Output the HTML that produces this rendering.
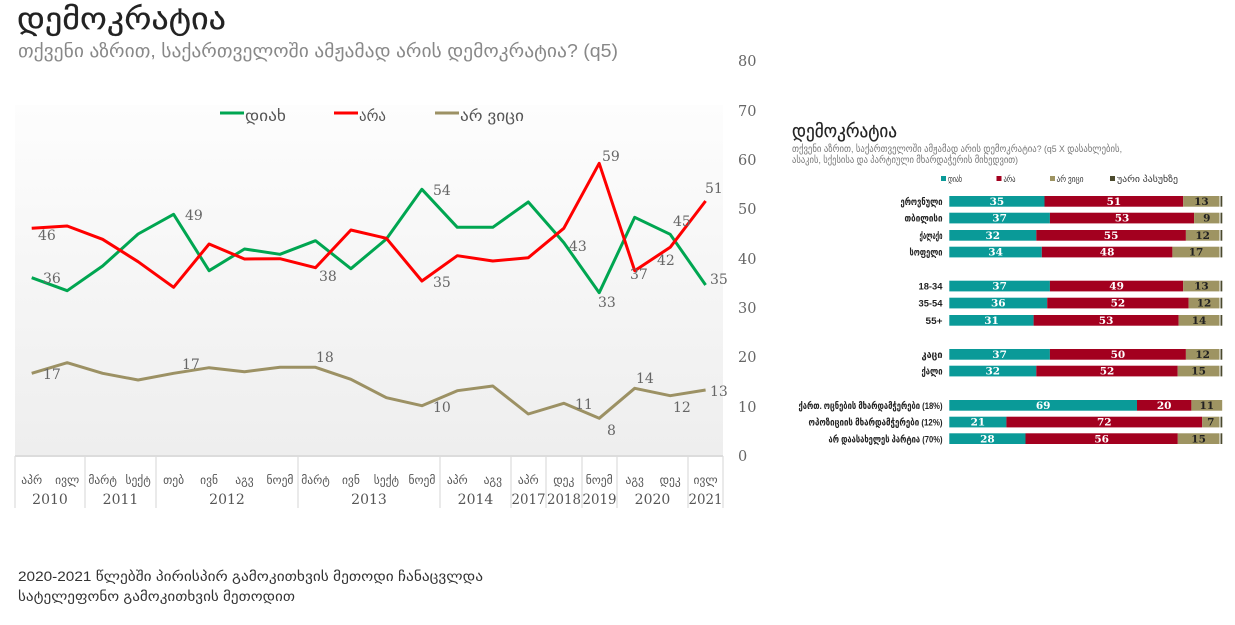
<!DOCTYPE html>
<html><head><meta charset="utf-8"><style>
html,body{margin:0;padding:0;background:#fff;}
svg{display:block;}
.geo{font-family:"Liberation Sans","DejaVu Sans",sans-serif;}
.num{font-family:"DejaVu Serif","Liberation Serif",serif;}
</style></head><body>
<svg width="1235" height="625" viewBox="0 0 1235 625" xmlns="http://www.w3.org/2000/svg">
<defs>
<linearGradient id="bg" x1="0" y1="0" x2="0" y2="1">
<stop offset="0" stop-color="#fdfdfd"/><stop offset="1" stop-color="#eeeeee"/>
</linearGradient>
</defs>
<rect width="1235" height="625" fill="#fff"/>
<!-- titles -->
<text class="geo" x="17" y="29" font-size="30" fill="#222" stroke="#222" stroke-width="0.25" textLength="209" lengthAdjust="spacingAndGlyphs">დემოკრატია</text>
<text class="geo" x="18" y="57" font-size="18" fill="#888" textLength="600" lengthAdjust="spacingAndGlyphs">თქვენი აზრით, საქართველოში ამჟამად არის დემოკრატია? (q5)</text>

<!-- plot background -->
<rect x="15" y="105" width="708" height="350" fill="url(#bg)"/>
<line x1="15" y1="456" x2="723" y2="456" stroke="#dcdcdc" stroke-width="2"/>

<!-- y axis labels -->
<g class="num" font-size="14.5" fill="#666">
<text x="738" y="66">80</text>
<text x="738" y="116">70</text>
<text x="738" y="165">60</text>
<text x="738" y="214">50</text>
<text x="738" y="264">40</text>
<text x="738" y="313">30</text>
<text x="738" y="362">20</text>
<text x="738" y="412">10</text>
<text x="738" y="461">0</text>
</g>

<!-- legend -->
<line x1="220" y1="113" x2="244" y2="113" stroke="#00a651" stroke-width="3"/>
<text class="geo" x="245" y="121" font-size="15" fill="#555" textLength="41" lengthAdjust="spacingAndGlyphs">დიახ</text>
<line x1="334" y1="113" x2="358" y2="113" stroke="#ff0000" stroke-width="3"/>
<text class="geo" x="359" y="121" font-size="15" fill="#555" textLength="27" lengthAdjust="spacingAndGlyphs">არა</text>
<line x1="435" y1="113" x2="459" y2="113" stroke="#9c9164" stroke-width="3"/>
<text class="geo" x="460" y="121" font-size="15" fill="#555" textLength="64" lengthAdjust="spacingAndGlyphs">არ ვიცი</text>

<!-- series -->
<polyline fill="none" stroke="#9c9164" stroke-width="3" stroke-linejoin="round" points="31.7,373.3 67.2,362.7 102.6,373.3 138.1,380 173.6,373.3 209.1,367.7 244.5,371.7 280,367.3 315.5,367.3 350.9,379.3 386.4,397.7 421.9,405.7 457.3,390.7 492.8,386 528.3,414 563.8,403.3 599.2,418.3 634.7,388.3 670.2,395.7 705.6,390"/>
<polyline fill="none" stroke="#00a651" stroke-width="3" stroke-linejoin="round" points="31.7,277.7 67.2,290.7 102.6,266 138.1,234 173.6,214.3 209.1,270.7 244.5,249 280,254.3 315.5,240.7 350.9,268.7 386.4,239 421.9,189.3 457.3,227.3 492.8,227.3 528.3,202 563.8,242.6 599.2,292.7 634.7,217.3 670.2,234.3 705.6,285"/>
<polyline fill="none" stroke="#ff0000" stroke-width="3" stroke-linejoin="round" points="31.7,228.3 67.2,226 102.6,239.3 138.1,261.7 173.6,287.3 209.1,244 244.5,259 280,258.7 315.5,267.7 350.9,230 386.4,238.3 421.9,281 457.3,255.7 492.8,261 528.3,257.7 563.8,228.3 599.2,163.3 634.7,270.7 670.2,247.3 705.6,201"/>

<!-- data labels -->
<g class="num" font-size="14" fill="#666">
<text x="43" y="283">36</text>
<text x="38" y="240">46</text>
<text x="185" y="220">49</text>
<text x="319" y="281">38</text>
<text x="43" y="379">17</text>
<text x="182" y="369">17</text>
<text x="316" y="362">18</text>
<text x="433" y="195">54</text>
<text x="433" y="287">35</text>
<text x="569" y="251">43</text>
<text x="602" y="161">59</text>
<text x="598" y="307">33</text>
<text x="630" y="279">37</text>
<text x="657" y="265">42</text>
<text x="673" y="226">45</text>
<text x="705" y="193">51</text>
<text x="710" y="284">35</text>
<text x="433" y="412">10</text>
<text x="575" y="409">11</text>
<text x="607" y="435">8</text>
<text x="636" y="383">14</text>
<text x="673" y="412">12</text>
<text x="710" y="396">13</text>
</g>

<!-- category table -->
<g stroke="#dcdcdc" stroke-width="1.2">
<line x1="15" y1="456" x2="15" y2="508"/>
<line x1="85" y1="456" x2="85" y2="508"/>
<line x1="156" y1="456" x2="156" y2="508"/>
<line x1="298" y1="456" x2="298" y2="508"/>
<line x1="440" y1="456" x2="440" y2="508"/>
<line x1="511" y1="456" x2="511" y2="508"/>
<line x1="546" y1="456" x2="546" y2="508"/>
<line x1="582" y1="456" x2="582" y2="508"/>
<line x1="617" y1="456" x2="617" y2="508"/>
<line x1="688" y1="456" x2="688" y2="508"/>
<line x1="723" y1="456" x2="723" y2="508"/>
</g>
<g class="geo" font-size="11.5" fill="#555" text-anchor="middle">
<text x="31.7" y="484">აპრ</text>
<text x="67.2" y="484">ივლ</text>
<text x="102.6" y="484">მარტ</text>
<text x="138.1" y="484">სექტ</text>
<text x="173.6" y="484">თებ</text>
<text x="209.1" y="484">ივნ</text>
<text x="244.5" y="484">აგვ</text>
<text x="280" y="484">ნოემ</text>
<text x="315.5" y="484">მარტ</text>
<text x="350.9" y="484">ივნ</text>
<text x="386.4" y="484">სექტ</text>
<text x="421.9" y="484">ნოემ</text>
<text x="457.3" y="484">აპრ</text>
<text x="492.8" y="484">აგვ</text>
<text x="528.3" y="484">აპრ</text>
<text x="563.8" y="484">დეკ</text>
<text x="599.2" y="484">ნოემ</text>
<text x="634.7" y="484">აგვ</text>
<text x="670.2" y="484">დეკ</text>
<text x="705.6" y="484">ივლ</text>
</g>
<g class="num" font-size="14" fill="#555" text-anchor="middle">
<text x="50" y="504">2010</text>
<text x="120.5" y="504">2011</text>
<text x="227" y="504">2012</text>
<text x="369" y="504">2013</text>
<text x="475.5" y="504">2014</text>
<text x="528.5" y="504" textLength="34" lengthAdjust="spacingAndGlyphs">2017</text>
<text x="564" y="504" textLength="34" lengthAdjust="spacingAndGlyphs">2018</text>
<text x="599.5" y="504" textLength="34" lengthAdjust="spacingAndGlyphs">2019</text>
<text x="652.5" y="504">2020</text>
<text x="705.5" y="504" textLength="34" lengthAdjust="spacingAndGlyphs">2021</text>
</g>

<!-- footnote -->
<text class="geo" x="18" y="581" font-size="14" fill="#333" textLength="465" lengthAdjust="spacingAndGlyphs">2020-2021 წლებში პირისპირ გამოკითხვის მეთოდი ჩანაცვლდა</text>
<text class="geo" x="18" y="601" font-size="14" fill="#333" textLength="277" lengthAdjust="spacingAndGlyphs">სატელეფონო გამოკითხვის მეთოდით</text>

<!-- right panel -->
<text class="geo" x="792" y="137" font-size="18" fill="#222" stroke="#222" stroke-width="0.2" textLength="105" lengthAdjust="spacingAndGlyphs">დემოკრატია</text>
<text class="geo" x="792" y="152" font-size="9.5" fill="#777" textLength="330" lengthAdjust="spacingAndGlyphs">თქვენი აზრით, საქართველოში ამჟამად არის დემოკრატია? (q5 X დასახლების,</text>
<text class="geo" x="792" y="163" font-size="9.5" fill="#777" textLength="226" lengthAdjust="spacingAndGlyphs">ასაკის, სქესისა და პარტიული მხარდაჭერის მიხედვით)</text>

<rect x="941" y="176" width="5" height="5" fill="#0a9a98"/>
<text class="geo" x="948" y="182" font-size="9" fill="#333" textLength="14" lengthAdjust="spacingAndGlyphs">დიახ</text>
<rect x="996.5" y="176" width="5" height="5" fill="#a3001f"/>
<text class="geo" x="1003.5" y="182" font-size="9" fill="#333" textLength="12" lengthAdjust="spacingAndGlyphs">არა</text>
<rect x="1050" y="176" width="5" height="5" fill="#9e9462"/>
<text class="geo" x="1056.5" y="182" font-size="9" fill="#333" textLength="27" lengthAdjust="spacingAndGlyphs">არ ვიცი</text>
<rect x="1110" y="176" width="5" height="5" fill="#4b4a2e"/>
<text class="geo" x="1117" y="182" font-size="9" fill="#333" textLength="61" lengthAdjust="spacingAndGlyphs">უარი პასუხზე</text>

<g id="bars">
<g>
<rect x="949.3" y="196" width="95.2" height="10.7" fill="#0a9a98"/>
<rect x="1044.5" y="196" width="138.7" height="10.7" fill="#a3001f"/>
<rect x="1183.2" y="196" width="36.3" height="10.7" fill="#9e9462"/>
<rect x="1220.5" y="196" width="1.8" height="10.7" fill="#4b4a2e"/>
</g>
<g>
<rect x="949.3" y="212.7" width="100.6" height="10.7" fill="#0a9a98"/>
<rect x="1049.9" y="212.7" width="144.2" height="10.7" fill="#a3001f"/>
<rect x="1194.1" y="212.7" width="25.4" height="10.7" fill="#9e9462"/>
<rect x="1220.5" y="212.7" width="1.8" height="10.7" fill="#4b4a2e"/>
</g>
<g>
<rect x="949.3" y="230" width="87" height="10.7" fill="#0a9a98"/>
<rect x="1036.3" y="230" width="149.6" height="10.7" fill="#a3001f"/>
<rect x="1185.9" y="230" width="33.6" height="10.7" fill="#9e9462"/>
<rect x="1220.5" y="230" width="1.8" height="10.7" fill="#4b4a2e"/>
</g>
<g>
<rect x="949.3" y="246.7" width="92.5" height="10.7" fill="#0a9a98"/>
<rect x="1041.8" y="246.7" width="130.6" height="10.7" fill="#a3001f"/>
<rect x="1172.4" y="246.7" width="47.1" height="10.7" fill="#9e9462"/>
<rect x="1220.5" y="246.7" width="1.8" height="10.7" fill="#4b4a2e"/>
</g>
<g>
<rect x="949.3" y="280.7" width="100.6" height="10.7" fill="#0a9a98"/>
<rect x="1049.9" y="280.7" width="133.3" height="10.7" fill="#a3001f"/>
<rect x="1183.2" y="280.7" width="36.3" height="10.7" fill="#9e9462"/>
<rect x="1220.5" y="280.7" width="1.8" height="10.7" fill="#4b4a2e"/>
</g>
<g>
<rect x="949.3" y="297.7" width="97.9" height="10.7" fill="#0a9a98"/>
<rect x="1047.2" y="297.7" width="141.4" height="10.7" fill="#a3001f"/>
<rect x="1188.6" y="297.7" width="30.9" height="10.7" fill="#9e9462"/>
<rect x="1220.5" y="297.7" width="1.8" height="10.7" fill="#4b4a2e"/>
</g>
<g>
<rect x="949.3" y="315" width="84.3" height="10.7" fill="#0a9a98"/>
<rect x="1033.6" y="315" width="145" height="10.7" fill="#a3001f"/>
<rect x="1178.6" y="315" width="40.9" height="10.7" fill="#9e9462"/>
<rect x="1220.5" y="315" width="1.8" height="10.7" fill="#4b4a2e"/>
</g>
<g>
<rect x="949.3" y="349" width="100.6" height="10.7" fill="#0a9a98"/>
<rect x="1049.9" y="349" width="136" height="10.7" fill="#a3001f"/>
<rect x="1185.9" y="349" width="33.6" height="10.7" fill="#9e9462"/>
<rect x="1220.5" y="349" width="1.8" height="10.7" fill="#4b4a2e"/>
</g>
<g>
<rect x="949.3" y="365.7" width="87" height="10.7" fill="#0a9a98"/>
<rect x="1036.3" y="365.7" width="141.4" height="10.7" fill="#a3001f"/>
<rect x="1177.7" y="365.7" width="41.8" height="10.7" fill="#9e9462"/>
<rect x="1220.5" y="365.7" width="1.8" height="10.7" fill="#4b4a2e"/>
</g>
<g>
<rect x="949.3" y="400" width="187.7" height="10.7" fill="#0a9a98"/>
<rect x="1137" y="400" width="54.4" height="10.7" fill="#a3001f"/>
<rect x="1191.4" y="400" width="30.8" height="10.7" fill="#9e9462"/>
</g>
<g>
<rect x="949.3" y="416.7" width="57.1" height="10.7" fill="#0a9a98"/>
<rect x="1006.4" y="416.7" width="195.8" height="10.7" fill="#a3001f"/>
<rect x="1202.2" y="416.7" width="17.3" height="10.7" fill="#9e9462"/>
<rect x="1220.5" y="416.7" width="1.8" height="10.7" fill="#4b4a2e"/>
</g>
<g>
<rect x="949.3" y="433.3" width="76.2" height="10.7" fill="#0a9a98"/>
<rect x="1025.5" y="433.3" width="152.3" height="10.7" fill="#a3001f"/>
<rect x="1177.8" y="433.3" width="41.7" height="10.7" fill="#9e9462"/>
<rect x="1220.5" y="433.3" width="1.8" height="10.7" fill="#4b4a2e"/>
</g>
</g>

<!-- bar numbers -->
<g class="num" font-size="10.5" font-weight="bold" text-anchor="middle">
<g fill="#fff">
<text x="996.9" y="205">35</text><text x="1113.9" y="205">51</text>
<text x="999.6" y="221.7">37</text><text x="1122" y="221.7">53</text>
<text x="992.8" y="239">32</text><text x="1111.1" y="239">55</text>
<text x="995.6" y="255.7">34</text><text x="1107.1" y="255.7">48</text>
<text x="999.6" y="289.7">37</text><text x="1116.6" y="289.7">49</text>
<text x="998.3" y="306.7">36</text><text x="1117.9" y="306.7">52</text>
<text x="991.5" y="324">31</text><text x="1106.1" y="324">53</text>
<text x="999.6" y="358">37</text><text x="1117.9" y="358">50</text>
<text x="992.8" y="374.7">32</text><text x="1107" y="374.7">52</text>
<text x="1043.2" y="409">69</text><text x="1164.2" y="409">20</text>
<text x="977.9" y="425.7">21</text><text x="1104.3" y="425.7">72</text>
<text x="987.4" y="442.3">28</text><text x="1101.7" y="442.3">56</text>
</g>
<g fill="#222">
<text x="1201.4" y="205">13</text>
<text x="1206.8" y="221.7">9</text>
<text x="1202.7" y="239">12</text>
<text x="1196" y="255.7">17</text>
<text x="1201.4" y="289.7">13</text>
<text x="1204" y="306.7">12</text>
<text x="1199" y="324">14</text>
<text x="1202.7" y="358">12</text>
<text x="1198.6" y="374.7">15</text>
<text x="1206.8" y="409">11</text>
<text x="1210.8" y="425.7">7</text>
<text x="1198.6" y="442.3">15</text>
</g>
</g>

<!-- row labels -->
<g class="geo" font-size="9.5" font-weight="bold" fill="#222" text-anchor="end">
<text x="942.5" y="205" textLength="42" lengthAdjust="spacingAndGlyphs">ეროვნული</text>
<text x="942.5" y="221.7" textLength="38" lengthAdjust="spacingAndGlyphs">თბილისი</text>
<text x="942.5" y="239" textLength="23" lengthAdjust="spacingAndGlyphs">ქალაქი</text>
<text x="942.5" y="255.7" textLength="33" lengthAdjust="spacingAndGlyphs">სოფელი</text>
<text x="942.5" y="289.7" textLength="24" lengthAdjust="spacingAndGlyphs">18-34</text>
<text x="942.5" y="306.7" textLength="24" lengthAdjust="spacingAndGlyphs">35-54</text>
<text x="942.5" y="324" textLength="17" lengthAdjust="spacingAndGlyphs">55+</text>
<text x="942.5" y="358" textLength="21" lengthAdjust="spacingAndGlyphs">კაცი</text>
<text x="942.5" y="374.7" textLength="21" lengthAdjust="spacingAndGlyphs">ქალი</text>
<text x="942.5" y="409" textLength="144" lengthAdjust="spacingAndGlyphs">ქართ. ოცნების მხარდამჭერები (18%)</text>
<text x="942.5" y="425.7" textLength="134" lengthAdjust="spacingAndGlyphs">ოპოზიციის მხარდამჭერები (12%)</text>
<text x="942.5" y="442.3" textLength="114" lengthAdjust="spacingAndGlyphs">არ დაასახელეს პარტია (70%)</text>
</g>
</svg>
</body></html>
